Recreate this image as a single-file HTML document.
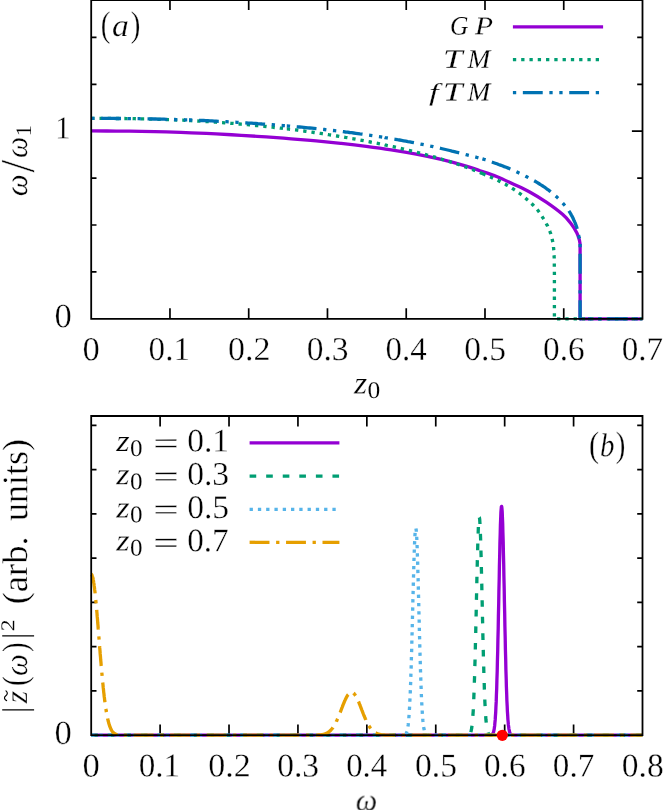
<!DOCTYPE html>
<html><head><meta charset="utf-8"><title>fig</title>
<style>html,body{margin:0;padding:0;background:#fff}svg{display:block}</style>
</head><body>
<svg width="664" height="810" viewBox="0 0 664 810">
<rect width="664" height="810" fill="#fff"/>
<path d="M169.96,318.8v-10.6M169.96,0.2v9.7M248.71,318.8v-10.6M248.71,0.2v9.7M327.47,318.8v-10.6M327.47,0.2v9.7M406.23,318.8v-10.6M406.23,0.2v9.7M484.99,318.8v-10.6M484.99,0.2v9.7M563.74,318.8v-10.6M563.74,0.2v9.7M91.2,271.90h5.3M642.5,271.90h-5.3M91.2,225.00h5.3M642.5,225.00h-5.3M91.2,178.10h5.3M642.5,178.10h-5.3M91.2,131.20h10.6M642.5,131.20h-10.6M91.2,84.30h5.3M642.5,84.30h-5.3M91.2,37.40h5.3M642.5,37.40h-5.3M160.11,735.2v-10.6M160.11,416.0v10.6M229.02,735.2v-10.6M229.02,416.0v10.6M297.94,735.2v-10.6M297.94,416.0v10.6M366.85,735.2v-10.6M366.85,416.0v10.6M435.76,735.2v-10.6M435.76,416.0v10.6M504.67,735.2v-10.6M504.67,416.0v10.6M573.59,735.2v-10.6M573.59,416.0v10.6M91.2,690.93h5.3M642.5,690.93h-5.3M91.2,646.66h5.3M642.5,646.66h-5.3M91.2,602.39h5.3M642.5,602.39h-5.3M91.2,558.12h5.3M642.5,558.12h-5.3M91.2,513.85h5.3M642.5,513.85h-5.3M91.2,469.58h5.3M642.5,469.58h-5.3M91.2,425.31h5.3M642.5,425.31h-5.3" fill="none" stroke="#000" stroke-width="1.7"/>
<g fill="none" stroke-width="3.31" stroke-linejoin="round">
<path d="M91.20,130.95 C95.37,130.97 107.87,130.98 116.20,131.05 C124.53,131.12 132.87,131.25 141.20,131.40 C149.53,131.55 157.87,131.72 166.20,131.95 C174.53,132.18 182.87,132.47 191.20,132.80 C199.53,133.13 207.87,133.50 216.20,133.92 C224.53,134.34 232.87,134.80 241.20,135.30 C249.53,135.80 257.87,136.34 266.20,136.92 C274.53,137.50 282.87,138.11 291.20,138.78 C299.53,139.45 307.87,140.15 316.20,140.92 C324.53,141.69 332.87,142.50 341.20,143.40 C349.53,144.30 357.87,145.26 366.20,146.33 C374.53,147.41 382.87,148.55 391.20,149.85 C399.53,151.15 407.87,152.55 416.20,154.15 C424.53,155.75 432.87,157.48 441.20,159.48 C449.53,161.48 459.73,164.27 466.20,166.14 C472.67,168.01 474.93,168.97 480.00,170.70 C485.07,172.43 491.08,174.28 496.60,176.50 C502.12,178.72 507.58,181.42 513.10,184.00 C518.62,186.58 524.17,188.97 529.70,192.00 C535.23,195.03 540.78,198.43 546.30,202.20 C551.82,205.97 558.67,211.02 562.80,214.60 C566.93,218.18 568.75,220.65 571.10,223.70 C573.45,226.75 575.50,230.12 576.90,232.90 C578.30,235.68 579.07,239.15 579.50,240.40 L580.1,244 L580.1,318.8 L642.5,318.8" stroke="#9400d3"/>
<path d="M91.2,118.3 L92.4,118.4 L93.9,118.4 L95.7,118.4 L97.7,118.4 L99.8,118.4 L102.1,118.4 L104.5,118.4 L106.9,118.4 L109.4,118.4 L111.7,118.4 L114.0,118.4 L116.2,118.5 L118.3,118.5 L120.4,118.5 L122.5,118.5 L124.5,118.5 L126.6,118.6 L128.7,118.6 L130.8,118.6 L132.9,118.7 L134.9,118.7 L137.0,118.8 L139.1,118.8 L141.2,118.8 L143.3,118.9 L145.4,118.9 L147.4,119.0 L149.5,119.1 L151.6,119.1 L153.7,119.2 L155.8,119.2 L157.9,119.3 L159.9,119.4 L162.0,119.4 L164.1,119.5 L166.2,119.6 L168.3,119.7 L170.4,119.7 L172.4,119.8 L174.5,119.9 L176.6,120.0 L178.7,120.1 L180.8,120.2 L182.9,120.2 L184.9,120.3 L187.0,120.4 L189.0,120.5 M189.0,120.5 L189.1,120.5 L191.2,120.7 L193.3,120.8 L195.4,120.9 L197.4,121.0 L199.5,121.1 L201.6,121.2 L203.7,121.4 L205.8,121.5 L207.9,121.6 L209.9,121.8 L212.0,121.9 L214.1,122.0 L216.2,122.2 L218.3,122.3 L220.4,122.5 L222.4,122.6 L224.5,122.8 L226.6,123.0 L228.7,123.1 L230.8,123.3 L232.9,123.4 L234.9,123.6 L237.0,123.8 L239.1,124.0 L241.2,124.2 L243.3,124.3 L245.4,124.5 L247.4,124.7 L249.5,124.9 L251.6,125.1 L253.7,125.3 L255.8,125.5 L257.9,125.7 L260.0,125.9 L262.0,126.1 L264.1,126.3 L266.2,126.5 L268.3,126.8 L270.4,127.0 L272.4,127.2 L274.5,127.5 L276.6,127.7 L278.7,127.9 L280.8,128.2 L282.9,128.4 L284.9,128.7 L286.8,128.9 M286.8,128.9 L287.0,128.9 L289.1,129.2 L291.2,129.4 L293.3,129.7 L295.4,129.9 L297.4,130.2 L299.5,130.5 L301.6,130.8 L303.7,131.0 L305.8,131.3 L307.9,131.6 L309.9,131.9 L312.0,132.2 L314.1,132.5 L316.2,132.8 L318.3,133.1 L320.4,133.4 L322.4,133.7 L324.5,134.0 L326.6,134.3 L328.7,134.7 L330.8,135.0 L332.9,135.3 L334.9,135.7 L337.0,136.0 L339.1,136.3 L341.2,136.7 L343.3,137.0 L345.4,137.4 L347.4,137.7 L349.5,138.1 L351.6,138.5 L353.7,138.8 L355.8,139.2 L357.9,139.6 L359.9,140.0 L362.0,140.4 L364.1,140.8 L366.2,141.2 L368.3,141.6 L370.4,142.0 L372.4,142.4 L374.5,142.8 L376.6,143.2 L378.7,143.6 L380.8,144.0 L382.9,144.5 L384.6,144.8 M384.6,144.8 L384.9,144.9 L387.0,145.4 L389.1,145.8 L391.2,146.3 L393.3,146.7 L395.4,147.2 L397.4,147.7 L399.5,148.1 L401.6,148.6 L403.7,149.1 L405.8,149.6 L407.9,150.1 L409.9,150.6 L412.0,151.1 L414.1,151.6 L416.2,152.1 L418.3,152.7 L420.4,153.2 L422.4,153.8 L424.5,154.3 L426.6,154.9 L428.7,155.4 L430.8,156.0 L432.9,156.6 L434.9,157.2 L437.0,157.8 L439.1,158.4 L441.2,159.0 L443.3,159.7 L445.5,160.3 L447.6,161.0 L449.8,161.7 L452.0,162.4 L454.2,163.1 L456.3,163.8 L458.5,164.5 L460.5,165.2 L462.5,165.9 L464.4,166.6 L466.2,167.2 L467.9,167.8 L469.5,168.4 L471.1,169.0 L472.6,169.6 L474.0,170.2 L475.4,170.7 L476.7,171.3 L478.1,171.8 L479.4,172.4 L480.7,172.9 L482.0,173.4 L482.4,173.6 M482.4,173.6 L483.3,174.0 L484.6,174.6 L485.9,175.1 L487.2,175.6 L488.4,176.1 L489.7,176.7 L490.9,177.2 L492.1,177.7 L493.3,178.3 L494.5,178.8 L495.7,179.4 L497.0,180.0 L498.2,180.6 L499.4,181.2 L500.7,181.9 L502.0,182.5 L503.2,183.2 L504.5,183.9 L505.8,184.5 L507.0,185.2 L508.3,185.9 L509.5,186.7 L510.7,187.4 L511.9,188.1 L513.1,188.9 L514.3,189.7 L515.4,190.4 L516.6,191.2 L517.7,192.0 L518.8,192.9 L520.0,193.7 L521.1,194.5 L522.2,195.4 L523.2,196.2 L524.3,197.1 L525.4,198.0 L526.4,198.9 L527.4,199.8 L528.5,200.7 L529.5,201.6 L530.5,202.6 L531.5,203.5 L532.5,204.5 L533.5,205.5 L534.4,206.5 L535.4,207.5 L536.3,208.5 L537.2,209.5 L538.0,210.5 L538.8,211.6 L539.6,212.7 L540.4,213.8 L541.2,214.9 L541.9,216.1 L542.6,217.3 L543.3,218.4 L544.0,219.5 L544.6,220.7 L545.2,221.7 L545.8,222.7 L546.3,223.7 L546.8,224.6 L547.2,225.4 L547.7,226.2 L548.0,227.0 L548.4,227.7 L548.7,228.5 L549.0,229.2 L549.3,229.9 L549.6,230.6 L549.9,231.3 L550.1,232.0 L550.4,232.8 L550.7,233.6 L550.9,234.4 L551.2,235.3 L551.4,236.1 L551.6,236.9 L551.8,237.8 L552.0,238.6 L552.2,239.5 L552.4,240.3 L552.6,241.2 L552.7,242.0 L552.9,242.8 L553.0,243.6 L553.2,244.3 L553.3,245.1 L553.4,245.8 L553.5,246.5 L553.5,247.2 L553.6,247.9 L553.7,248.7 L553.7,249.5 L553.8,250.3 L553.8,251.1 L553.9,252.0 L554.0,252.9 L554.0,253.8 L554.0,254.7 L554.1,255.6 L554.1,256.5 L554.2,257.5 L554.2,258.5 L554.2,259.6 L554.2,260.8 L554.3,262.1 L554.3,263.5 L554.3,265.0 L554.3,266.7 L554.3,268.4 L554.3,270.3 L554.4,272.3 L554.4,274.4 L554.4,276.5 L554.4,278.7 L554.4,280.9 L554.4,283.2 L554.4,285.5 L554.4,287.7 L554.4,290.0 L554.4,292.4 L554.4,294.9 L554.4,297.6 L554.4,300.4 L554.4,303.2 L554.4,306.0 L554.4,308.6 L554.4,311.2 L554.4,313.5 L554.4,315.6 L554.4,317.4 L554.4,318.8 L580.1,318.8 L642.5,318.8" stroke="#009e73" stroke-dasharray="3.31,4.97"/>
<path d="M91.2,118.3 L92.4,118.4 L93.9,118.4 L95.7,118.4 L97.7,118.4 L99.8,118.4 L102.1,118.4 L104.5,118.4 L106.9,118.4 L109.4,118.4 L111.7,118.4 L114.0,118.4 L116.2,118.5 L118.3,118.5 L120.4,118.5 L122.5,118.5 L124.5,118.5 L126.6,118.5 L128.7,118.6 L130.8,118.6 L132.9,118.6 L134.9,118.7 L137.0,118.7 L139.1,118.7 L141.2,118.8 L143.3,118.8 L145.4,118.8 L147.4,118.9 L149.5,118.9 L151.6,118.9 L153.7,119.0 L155.8,119.0 L157.9,119.1 L159.9,119.1 L162.0,119.2 L164.1,119.2 L166.2,119.3 L168.3,119.3 L170.4,119.4 L172.4,119.4 L174.5,119.5 L176.6,119.6 L178.7,119.6 L180.8,119.7 L182.9,119.7 L184.9,119.8 L187.0,119.9 L189.0,119.9 M189.0,119.9 L189.1,119.9 L191.2,120.0 L193.3,120.1 L195.4,120.2 L197.4,120.3 L199.5,120.4 L201.6,120.5 L203.7,120.5 L205.8,120.6 L207.9,120.7 L209.9,120.8 L212.0,120.9 L214.1,121.1 L216.2,121.2 L218.3,121.3 L220.4,121.4 L222.4,121.5 L224.5,121.6 L226.6,121.7 L228.7,121.8 L230.8,121.9 L232.9,122.1 L234.9,122.2 L237.0,122.3 L239.1,122.4 L241.2,122.6 L243.3,122.7 L245.4,122.8 L247.4,123.0 L249.5,123.1 L251.6,123.2 L253.7,123.4 L255.8,123.5 L257.9,123.7 L260.0,123.8 L262.0,124.0 L264.1,124.1 L266.2,124.3 L268.3,124.4 L270.4,124.6 L272.4,124.7 L274.5,124.9 L276.6,125.1 L278.7,125.2 L280.8,125.4 L282.9,125.6 L284.9,125.7 L286.8,125.9 M286.8,125.9 L287.0,125.9 L289.1,126.1 L291.2,126.3 L293.3,126.5 L295.4,126.6 L297.4,126.8 L299.5,127.0 L301.6,127.2 L303.7,127.4 L305.8,127.6 L307.9,127.8 L309.9,128.0 L312.0,128.2 L314.1,128.4 L316.2,128.7 L318.3,128.9 L320.4,129.1 L322.4,129.3 L324.5,129.5 L326.6,129.8 L328.7,130.0 L330.8,130.2 L332.9,130.5 L334.9,130.7 L337.0,130.9 L339.1,131.2 L341.2,131.4 L343.3,131.7 L345.4,132.0 L347.4,132.2 L349.5,132.5 L351.6,132.7 L353.7,133.0 L355.8,133.3 L357.9,133.6 L359.9,133.9 L362.0,134.1 L364.1,134.4 L366.2,134.7 L368.3,135.0 L370.4,135.3 L372.4,135.6 L374.5,136.0 L376.6,136.3 L378.7,136.6 L380.8,136.9 L382.9,137.2 L384.6,137.5 M384.6,137.5 L384.9,137.6 L387.0,137.9 L389.1,138.3 L391.2,138.6 L393.3,139.0 L395.4,139.3 L397.4,139.7 L399.5,140.0 L401.6,140.4 L403.7,140.8 L405.8,141.2 L407.9,141.6 L409.9,141.9 L412.0,142.3 L414.1,142.7 L416.2,143.2 L418.3,143.6 L420.4,144.0 L422.4,144.4 L424.5,144.8 L426.6,145.3 L428.7,145.7 L430.8,146.2 L432.9,146.6 L434.9,147.1 L437.0,147.5 L439.1,148.0 L441.2,148.5 L443.3,149.0 L445.5,149.5 L447.6,150.0 L449.8,150.5 L452.0,151.1 L454.2,151.6 L456.3,152.2 L458.4,152.7 L460.5,153.2 L462.5,153.7 L464.4,154.2 L466.2,154.7 L467.9,155.1 L469.6,155.5 L471.2,155.9 L472.8,156.3 L474.3,156.7 L475.8,157.1 L477.2,157.5 L478.6,157.9 L479.9,158.2 L481.1,158.6 L482.3,158.9 L482.4,158.9 M482.4,158.9 L483.4,159.2 L484.4,159.5 L485.2,159.7 L485.9,159.9 L486.5,160.1 L487.1,160.3 L487.6,160.5 L488.2,160.6 L488.8,160.8 L489.4,161.1 L490.3,161.4 L491.2,161.8 L492.4,162.2 L493.8,162.7 L495.2,163.2 L496.9,163.8 L498.6,164.5 L500.4,165.1 L502.3,165.8 L504.2,166.6 L506.2,167.3 L508.2,168.1 L510.2,169.0 L512.1,169.8 L514.1,170.7 L516.1,171.6 L518.1,172.6 L520.2,173.6 L522.4,174.6 L524.6,175.7 L526.7,176.8 L528.9,177.9 L531.0,179.1 L533.1,180.2 L535.1,181.3 L537.0,182.4 L538.8,183.5 L540.5,184.6 L542.2,185.6 L543.7,186.7 L545.3,187.7 L546.7,188.8 L548.2,189.8 L549.6,190.9 L550.9,192.0 L552.2,193.0 L553.5,194.1 L554.8,195.2 L556.0,196.3 L557.2,197.4 L558.4,198.5 L559.6,199.7 L560.7,200.8 L561.8,202.0 L562.8,203.2 L563.8,204.3 L564.8,205.5 L565.8,206.7 L566.7,207.8 L567.6,209.0 L568.4,210.2 L569.2,211.4 L570.0,212.6 L570.7,213.8 L571.4,215.1 L572.1,216.3 L572.7,217.5 L573.3,218.8 L573.8,220.0 L574.4,221.2 L574.9,222.4 L575.4,223.5 L575.8,224.6 L576.2,225.7 L576.6,226.8 L576.9,228.0 L577.2,229.1 L577.5,230.2 L577.8,231.3 L578.0,232.3 L578.2,233.3 L578.4,234.2 L578.5,235.0 L578.7,235.6 L578.8,236.2 L580.1,240.0 L580.1,243.9 M580.1,243.9 L580.1,318.8 L642.5,318.8" stroke="#0072b2" stroke-dasharray="3.31,6.63,19.88,6.63,3.31,6.63"/>
<path d="M512.9,26.8H603.1" stroke="#9400d3"/>
<path d="M512.9,59.7H603.1" stroke="#009e73" stroke-dasharray="3.31,4.97"/>
<path d="M512.9,92.7H603.1" stroke="#0072b2" stroke-dasharray="3.31,6.63,19.88,6.63,3.31,6.63"/>
</g>
<g fill="none" stroke-width="3.31" stroke-linejoin="round">
<path d="M91.2,735.2 L489.7,735.2 L489.9,735.2 L490.2,735.2 L490.4,735.1 L490.7,735.1 L490.9,735.1 L491.2,735.0 L491.4,734.9 L491.7,734.8 L491.9,734.7 L492.2,734.5 L492.4,734.3 L492.7,734.0 L492.9,733.6 L493.2,733.0 L493.4,732.4 L493.7,731.5 L493.9,730.4 L494.2,729.1 L494.4,727.4 L494.7,725.4 L494.9,722.9 L495.2,719.9 L495.4,716.4 L495.7,712.3 L495.9,707.5 L496.2,701.9 L496.4,695.5 L496.7,688.4 L496.9,680.4 L497.2,671.5 L497.4,661.9 L497.7,651.4 L497.9,640.3 L498.2,628.6 L498.4,616.4 L498.7,603.9 L498.9,591.3 L499.2,578.7 L499.4,566.5 L499.7,554.8 L499.9,543.9 L500.2,534.0 L500.4,525.4 L500.7,518.1 L500.9,512.5 L501.2,508.6 L501.4,506.5 L501.7,506.4 L501.9,508.0 L502.2,511.6 L502.4,516.9 L502.7,523.8 L502.9,532.2 L503.2,541.9 L503.4,552.6 L503.7,564.1 L503.9,576.2 L504.2,588.7 L504.4,601.4 L504.7,613.9 L504.9,626.2 L505.2,638.0 L505.4,649.3 L505.7,659.8 L505.9,669.7 L506.2,678.7 L506.4,686.8 L506.7,694.2 L506.9,700.7 L507.2,706.4 L507.4,711.4 L507.7,715.6 L507.9,719.3 L508.2,722.3 L508.4,724.9 L508.7,727.0 L508.9,728.8 L509.2,730.2 L509.4,731.3 L509.7,732.2 L509.9,732.9 L510.2,733.5 L510.4,733.9 L510.7,734.2 L510.9,734.5 L511.2,734.7 L511.4,734.8 L511.7,734.9 L511.9,735.0 L512.2,735.1 L512.5,735.1 L512.7,735.1 L513.0,735.2 L513.2,735.2 L513.5,735.2 L642.0,735.2 L642.2,735.2 L642.5,735.2" stroke="#9400d3"/>
<path d="M91.2,735.2 L466.7,735.2 L466.9,735.2 L467.2,735.2 L467.4,735.1 L467.7,735.1 L467.9,735.1 L468.2,735.1 L468.4,735.0 L468.7,734.9 L468.9,734.8 L469.2,734.7 L469.4,734.5 L469.7,734.3 L469.9,734.0 L470.2,733.6 L470.4,733.1 L470.7,732.5 L470.9,731.7 L471.2,730.8 L471.4,729.6 L471.7,728.2 L471.9,726.4 L472.2,724.3 L472.4,721.8 L472.7,718.8 L472.9,715.4 L473.2,711.3 L473.4,706.7 L473.7,701.4 L473.9,695.4 L474.2,688.8 L474.4,681.4 L474.7,673.2 L474.9,664.4 L475.2,655.0 L475.4,644.9 L475.7,634.3 L475.9,623.3 L476.2,612.1 L476.4,600.7 L476.7,589.3 L476.9,578.2 L477.2,567.5 L477.4,557.3 L477.7,548.0 L477.9,539.6 L478.2,532.3 L478.4,526.4 L478.7,521.8 L478.9,518.8 L479.2,517.3 L479.4,517.5 L479.7,519.3 L479.9,522.6 L480.2,527.4 L480.4,533.7 L480.7,541.2 L480.9,549.8 L481.2,559.3 L481.4,569.6 L481.7,580.4 L481.9,591.6 L482.2,603.0 L482.4,614.3 L482.7,625.6 L482.9,636.5 L483.2,646.9 L483.4,656.9 L483.7,666.2 L483.9,674.9 L484.2,682.9 L484.4,690.2 L484.7,696.7 L484.9,702.5 L485.2,707.7 L485.4,712.2 L485.7,716.1 L485.9,719.5 L486.2,722.3 L486.4,724.8 L486.7,726.8 L486.9,728.5 L487.2,729.9 L487.4,731.0 L487.7,731.9 L487.9,732.7 L488.2,733.2 L488.4,733.7 L488.7,734.1 L488.9,734.3 L489.2,734.6 L489.4,734.7 L489.7,734.8 L489.9,734.9 L490.2,735.0 L490.4,735.1 L490.7,735.1 L490.9,735.1 L491.2,735.2 L491.4,735.2 L491.7,735.2 L642.0,735.2 L642.2,735.2 L642.5,735.2" stroke="#009e73" stroke-dasharray="6.63,9.94"/>
<path d="M91.2,735.2 L402.4,735.2 L402.7,735.2 L402.9,735.2 L403.2,735.1 L403.4,735.1 L403.7,735.1 L403.9,735.1 L404.2,735.0 L404.4,734.9 L404.7,734.9 L404.9,734.7 L405.2,734.6 L405.4,734.4 L405.7,734.2 L405.9,733.9 L406.2,733.5 L406.4,733.0 L406.7,732.4 L406.9,731.7 L407.2,730.8 L407.4,729.7 L407.7,728.4 L407.9,726.8 L408.2,724.9 L408.4,722.7 L408.7,720.2 L408.9,717.2 L409.2,713.7 L409.4,709.8 L409.7,705.3 L409.9,700.3 L410.2,694.7 L410.4,688.5 L410.7,681.7 L410.9,674.3 L411.2,666.4 L411.4,657.9 L411.7,648.9 L411.9,639.5 L412.2,629.7 L412.4,619.8 L412.7,609.6 L412.9,599.5 L413.2,589.6 L413.4,579.9 L413.7,570.6 L413.9,562.0 L414.2,554.0 L414.4,546.9 L414.7,540.8 L414.9,535.8 L415.2,532.0 L415.4,529.5 L415.7,528.3 L415.9,528.4 L416.2,529.9 L416.4,532.7 L416.7,536.7 L416.9,542.0 L417.2,548.3 L417.4,555.5 L417.7,563.6 L417.9,572.5 L418.2,581.8 L418.4,591.6 L418.7,601.6 L418.9,611.7 L419.2,621.8 L419.4,631.7 L419.7,641.4 L419.9,650.7 L420.2,659.6 L420.4,668.0 L420.7,675.8 L420.9,683.1 L421.2,689.8 L421.4,695.9 L421.7,701.4 L421.9,706.3 L422.2,710.6 L422.4,714.5 L422.7,717.8 L422.9,720.7 L423.2,723.2 L423.4,725.3 L423.7,727.2 L423.9,728.7 L424.2,729.9 L424.4,731.0 L424.7,731.8 L424.9,732.5 L425.2,733.1 L425.4,733.6 L425.7,733.9 L425.9,734.2 L426.2,734.5 L426.4,734.6 L426.7,734.8 L426.9,734.9 L427.2,735.0 L427.4,735.0 L427.7,735.1 L427.9,735.1 L428.2,735.1 L428.4,735.1 L428.7,735.2 L428.9,735.2 L642.0,735.2 L642.2,735.2 L642.5,735.2" stroke="#56b4e9" stroke-dasharray="3.31,4.97"/>
<path d="M91.2,574.2 L91.5,574.3 L91.7,574.5 L92.0,575.0 L92.2,575.6 L92.5,576.3 L92.7,577.2 L93.0,578.3 L93.2,579.5 L93.5,580.9 L93.7,582.5 L94.0,584.1 L94.2,586.0 L94.5,587.9 L94.7,590.0 L95.0,592.2 L95.2,594.5 L95.5,596.9 L95.7,599.5 L96.0,602.1 L96.2,604.8 L96.5,607.6 L96.7,610.5 L97.0,613.4 L97.2,616.4 L97.5,619.4 L97.7,622.5 L98.0,625.6 L98.2,628.7 L98.5,631.8 L98.7,635.0 L99.0,638.2 L99.2,641.4 L99.5,644.5 L99.7,647.7 L100.0,650.8 L100.2,653.9 L100.5,657.0 L100.7,660.0 L101.0,663.0 L101.2,665.9 L101.5,668.8 L101.7,671.7 L102.0,674.4 L102.2,677.2 L102.5,679.8 L102.7,682.4 L103.0,684.9 L103.2,687.4 L103.5,689.8 L103.7,692.1 L104.0,694.3 L104.2,696.5 L104.5,698.6 L104.7,700.6 L105.0,702.5 L105.2,704.4 L105.5,706.2 L105.7,707.9 L106.0,709.5 L106.2,711.1 L106.5,712.5 L106.7,714.0 L107.0,715.3 L107.2,716.6 L107.5,717.8 L107.7,719.0 L108.0,720.1 L108.2,721.1 L108.5,722.1 L108.7,723.0 L109.0,723.9 L109.2,724.7 L109.5,725.5 L109.7,726.2 L110.0,726.9 L110.2,727.5 L110.5,728.1 L110.7,728.7 L111.0,729.2 L111.2,729.7 L111.5,730.1 L111.7,730.5 L112.0,730.9 L112.2,731.3 L112.5,731.6 L112.7,731.9 L113.0,732.2 L113.2,732.5 L113.5,732.7 L113.7,732.9 L114.0,733.2 L114.2,733.3 L114.5,733.5 L114.7,733.7 L115.0,733.8 L115.2,733.9 L115.5,734.1 L115.7,734.2 L116.0,734.3 L116.2,734.4 L116.5,734.5 L116.7,734.5 L117.0,734.6 L117.2,734.7 L117.5,734.7 L117.7,734.8 L118.0,734.8 L118.2,734.9 L118.5,734.9 L118.7,734.9 L119.0,735.0 L119.2,735.0 L119.5,735.0 L119.7,735.0 L120.0,735.0 L120.2,735.1 L120.5,735.1 L120.7,735.1 L121.0,735.1 L121.2,735.1 L121.5,735.1 L121.7,735.1 L122.0,735.1 L122.2,735.2 L122.5,735.2 L122.7,735.2 L123.0,735.2 L123.2,735.2 L123.5,735.2 L123.7,735.2 L312.2,735.2 L312.4,735.2 L312.7,735.2 L312.9,735.2 L313.2,735.2 L313.4,735.2 L313.7,735.2 L313.9,735.2 L314.2,735.2 L314.4,735.2 L314.7,735.2 L314.9,735.1 L315.2,735.1 L315.4,735.1 L315.7,735.1 L315.9,735.1 L316.2,735.1 L316.4,735.1 L316.7,735.1 L316.9,735.1 L317.2,735.1 L317.4,735.1 L317.7,735.1 L317.9,735.0 L318.2,735.0 L318.4,735.0 L318.7,735.0 L318.9,735.0 L319.2,735.0 L319.4,734.9 L319.7,734.9 L319.9,734.9 L320.2,734.9 L320.4,734.9 L320.7,734.8 L320.9,734.8 L321.2,734.8 L321.4,734.7 L321.7,734.7 L321.9,734.7 L322.2,734.6 L322.4,734.6 L322.7,734.5 L322.9,734.5 L323.2,734.4 L323.4,734.4 L323.7,734.3 L323.9,734.2 L324.2,734.2 L324.4,734.1 L324.7,734.0 L324.9,733.9 L325.2,733.8 L325.4,733.8 L325.7,733.7 L325.9,733.6 L326.2,733.4 L326.4,733.3 L326.7,733.2 L326.9,733.1 L327.2,733.0 L327.4,732.8 L327.7,732.7 L327.9,732.5 L328.2,732.4 L328.4,732.2 L328.7,732.0 L328.9,731.8 L329.2,731.6 L329.4,731.4 L329.7,731.2 L329.9,731.0 L330.2,730.8 L330.4,730.5 L330.7,730.3 L330.9,730.0 L331.2,729.7 L331.4,729.4 L331.7,729.1 L331.9,728.8 L332.2,728.5 L332.4,728.2 L332.7,727.9 L332.9,727.5 L333.2,727.1 L333.4,726.8 L333.7,726.4 L333.9,726.0 L334.2,725.6 L334.4,725.1 L334.7,724.7 L334.9,724.3 L335.2,723.8 L335.4,723.3 L335.7,722.9 L335.9,722.4 L336.2,721.9 L336.4,721.3 L336.7,720.8 L336.9,720.3 L337.2,719.7 L337.4,719.2 L337.7,718.6 L337.9,718.0 L338.2,717.4 L338.4,716.8 L338.7,716.2 L338.9,715.6 L339.2,715.0 L339.4,714.4 L339.7,713.8 L339.9,713.1 L340.2,712.5 L340.4,711.8 L340.7,711.2 L340.9,710.6 L341.2,709.9 L341.4,709.2 L341.7,708.6 L341.9,707.9 L342.2,707.3 L342.4,706.6 L342.7,706.0 L342.9,705.4 L343.2,704.7 L343.4,704.1 L343.7,703.5 L343.9,702.9 L344.2,702.3 L344.4,701.7 L344.7,701.1 L344.9,700.5 L345.2,699.9 L345.4,699.4 L345.7,698.9 L345.9,698.3 L346.2,697.8 L346.4,697.3 L346.7,696.9 L346.9,696.4 L347.2,696.0 L347.4,695.6 L347.7,695.2 L347.9,694.8 L348.2,694.5 L348.4,694.2 L348.7,693.9 L348.9,693.6 L349.2,693.3 L349.4,693.1 L349.7,692.9 L349.9,692.7 L350.2,692.6 L350.4,692.4 L350.7,692.3 L350.9,692.3 L351.2,692.2 L351.4,692.2 L351.7,692.2 L351.9,692.2 L352.2,692.3 L352.4,692.4 L352.7,692.5 L352.9,692.6 L353.2,692.8 L353.4,693.0 L353.7,693.2 L353.9,693.5 L354.2,693.7 L354.4,694.0 L354.7,694.3 L354.9,694.7 L355.2,695.0 L355.4,695.4 L355.7,695.8 L355.9,696.3 L356.2,696.7 L356.4,697.2 L356.7,697.6 L356.9,698.1 L357.2,698.6 L357.4,699.2 L357.7,699.7 L357.9,700.3 L358.2,700.8 L358.4,701.4 L358.7,702.0 L358.9,702.6 L359.2,703.2 L359.4,703.9 L359.7,704.5 L359.9,705.1 L360.2,705.7 L360.4,706.4 L360.7,707.0 L360.9,707.7 L361.2,708.3 L361.4,709.0 L361.7,709.6 L361.9,710.3 L362.2,710.9 L362.4,711.6 L362.7,712.2 L362.9,712.9 L363.2,713.5 L363.4,714.1 L363.7,714.8 L363.9,715.4 L364.2,716.0 L364.4,716.6 L364.7,717.2 L364.9,717.8 L365.2,718.4 L365.4,718.9 L365.7,719.5 L365.9,720.1 L366.2,720.6 L366.4,721.1 L366.7,721.7 L366.9,722.2 L367.2,722.7 L367.4,723.1 L367.7,723.6 L367.9,724.1 L368.2,724.5 L368.4,725.0 L368.7,725.4 L368.9,725.8 L369.2,726.2 L369.4,726.6 L369.7,727.0 L369.9,727.4 L370.2,727.7 L370.4,728.1 L370.7,728.4 L370.9,728.7 L371.2,729.0 L371.4,729.3 L371.7,729.6 L371.9,729.9 L372.2,730.2 L372.4,730.4 L372.7,730.7 L372.9,730.9 L373.2,731.1 L373.4,731.3 L373.7,731.5 L373.9,731.7 L374.2,731.9 L374.4,732.1 L374.7,732.3 L374.9,732.4 L375.2,732.6 L375.4,732.8 L375.7,732.9 L375.9,733.0 L376.2,733.2 L376.4,733.3 L376.7,733.4 L376.9,733.5 L377.2,733.6 L377.4,733.7 L377.7,733.8 L377.9,733.9 L378.2,734.0 L378.4,734.1 L378.7,734.1 L378.9,734.2 L379.2,734.3 L379.4,734.3 L379.7,734.4 L379.9,734.4 L380.2,734.5 L380.4,734.5 L380.7,734.6 L380.9,734.6 L381.2,734.7 L381.4,734.7 L381.7,734.8 L381.9,734.8 L382.2,734.8 L382.4,734.8 L382.7,734.9 L382.9,734.9 L383.2,734.9 L383.4,734.9 L383.7,735.0 L383.9,735.0 L384.2,735.0 L384.4,735.0 L384.7,735.0 L384.9,735.0 L385.2,735.1 L385.4,735.1 L385.7,735.1 L385.9,735.1 L386.2,735.1 L386.4,735.1 L386.7,735.1 L386.9,735.1 L387.2,735.1 L387.4,735.1 L387.7,735.1 L387.9,735.1 L388.2,735.1 L388.4,735.2 L388.7,735.2 L388.9,735.2 L389.2,735.2 L389.4,735.2 L389.7,735.2 L389.9,735.2 L390.2,735.2 L390.4,735.2 L642.0,735.2 L642.2,735.2 L642.5,735.2" stroke="#e69f00" stroke-dasharray="19.88,6.63,3.31,6.63"/>
<path d="M249.6,442.9H339.4" stroke="#9400d3"/>
<path d="M249.6,476.1H339.4" stroke="#009e73" stroke-dasharray="6.63,9.94"/>
<path d="M249.6,509.4H339.4" stroke="#56b4e9" stroke-dasharray="3.31,4.97"/>
<path d="M249.6,542.3H339.4" stroke="#e69f00" stroke-dasharray="19.88,6.63,3.31,6.63"/>
</g>
<g fill="none" stroke="#000" stroke-width="1.8"><path d="M91.2,0.2H642.5V318.8H91.2Z"/><path d="M91.2,416.0H642.5V735.2H91.2Z"/></g>
<circle cx="502.3" cy="735.3" r="5.6" fill="#ff0000"/>
<g font-family="'Liberation Serif', serif" fill="#000" stroke="#fff" stroke-width="0.45" opacity="0.999" text-rendering="geometricPrecision">
<text transform="matrix(0.8500 0.002 -0.002 1.0602 100.86 36.21)" font-size="34" stroke-width="0.30">(</text>
<text transform="matrix(0.9898 0.002 -0.002 0.9273 112.01 36.04)" font-size="34" font-style="italic" stroke-width="0.30">a</text>
<text transform="matrix(0.8500 0.002 -0.002 1.0602 130.63 36.21)" font-size="34" stroke-width="0.30">)</text>
<text transform="matrix(0.8914 0.002 -0.002 1.0602 588.96 456.61)" font-size="34" stroke-width="0.30">(</text>
<text transform="matrix(0.8500 0.002 -0.002 0.9726 600.12 456.26)" font-size="34" font-style="italic" stroke-width="0.30">b</text>
<text transform="matrix(0.8500 0.002 -0.002 1.0602 615.63 456.61)" font-size="34" stroke-width="0.30">)</text>
<text transform="matrix(0.9429 0.002 -0.002 0.9808 449.89 34.55)" font-size="27" font-style="italic" stroke-width="0.20">G</text>
<text transform="matrix(1.0938 0.002 -0.002 0.9465 474.97 34.30)" font-size="27" font-style="italic" stroke-width="0.20">P</text>
<text transform="matrix(1.3000 0.002 -0.002 0.9859 443.09 67.70)" font-size="27" font-style="italic" stroke-width="0.20">T</text>
<text transform="matrix(1.0125 0.002 -0.002 0.9859 467.45 67.70)" font-size="27" font-style="italic" stroke-width="0.20">M</text>
<text transform="matrix(1.3000 0.002 -0.002 0.9253 428.96 100.38)" font-size="27" font-style="italic" stroke-width="0.20">f</text>
<text transform="matrix(1.3000 0.002 -0.002 0.9634 443.09 100.40)" font-size="27" font-style="italic" stroke-width="0.20">T</text>
<text transform="matrix(1.0125 0.002 -0.002 0.9634 467.45 100.40)" font-size="27" font-style="italic" stroke-width="0.20">M</text>
<text transform="matrix(0.9727 0.002 -0.002 1.0390 55.33 138.60)" font-size="31" stroke-width="0.30">1</text>
<text transform="matrix(1.1154 0.002 -0.002 1.1048 54.51 327.32)" font-size="31" stroke-width="0.30">0</text>
<text transform="matrix(1.1154 0.002 -0.002 1.0905 54.51 743.93)" font-size="31" stroke-width="0.30">0</text>
<text transform="matrix(1.1154 0.002 -0.002 1.0857 82.56 360.33)" font-size="31" stroke-width="0.30">0</text>
<text transform="matrix(1.0685 0.002 -0.002 1.0729 148.62 360.06)" font-size="31" stroke-width="0.30">0.1</text>
<text transform="matrix(1.0965 0.002 -0.002 1.0729 227.94 360.06)" font-size="31" stroke-width="0.30">0.2</text>
<text transform="matrix(1.0814 0.002 -0.002 1.0729 306.72 360.06)" font-size="31" stroke-width="0.30">0.3</text>
<text transform="matrix(1.0595 0.002 -0.002 1.0729 385.50 360.06)" font-size="31" stroke-width="0.30">0.4</text>
<text transform="matrix(1.0814 0.002 -0.002 1.0729 464.23 360.06)" font-size="31" stroke-width="0.30">0.5</text>
<text transform="matrix(1.0740 0.002 -0.002 1.0729 543.00 360.06)" font-size="31" stroke-width="0.30">0.6</text>
<text transform="matrix(1.0667 0.002 -0.002 1.0729 621.77 360.06)" font-size="31" stroke-width="0.30">0.7</text>
<text transform="matrix(1.1154 0.002 -0.002 1.0857 82.56 776.73)" font-size="31" stroke-width="0.30">0</text>
<text transform="matrix(1.0685 0.002 -0.002 1.0729 138.78 776.46)" font-size="31" stroke-width="0.30">0.1</text>
<text transform="matrix(1.0965 0.002 -0.002 1.0729 208.25 776.46)" font-size="31" stroke-width="0.30">0.2</text>
<text transform="matrix(1.0814 0.002 -0.002 1.0729 277.19 776.46)" font-size="31" stroke-width="0.30">0.3</text>
<text transform="matrix(1.0595 0.002 -0.002 1.0729 346.13 776.46)" font-size="31" stroke-width="0.30">0.4</text>
<text transform="matrix(1.0814 0.002 -0.002 1.0729 415.01 776.46)" font-size="31" stroke-width="0.30">0.5</text>
<text transform="matrix(1.0740 0.002 -0.002 1.0729 483.93 776.46)" font-size="31" stroke-width="0.30">0.6</text>
<text transform="matrix(1.0667 0.002 -0.002 1.0729 552.85 776.46)" font-size="31" stroke-width="0.30">0.7</text>
<text transform="matrix(1.0814 0.002 -0.002 1.0729 621.75 776.46)" font-size="31" stroke-width="0.30">0.8</text>
<text transform="matrix(0.9962 0.002 -0.002 0.9333 354.00 393.50)" font-size="34" font-style="italic" stroke-width="0.30">z</text>
<text transform="matrix(1.1100 0.002 -0.002 1.0387 367.57 397.94)" font-size="23" stroke-width="0.12">0</text>
<text transform="matrix(0.8930 0.002 -0.002 0.9231 355.61 810.17)" font-size="34" font-style="italic" stroke-width="0.30">ω</text>
<text transform="translate(0 810) rotate(-90) matrix(0.9116 0.002 -0.002 0.9292 613.69 26.97)" font-size="34" font-style="italic" stroke-width="0.30">ω</text>
<text transform="translate(0 810) rotate(-90) matrix(1.3474 0.002 -0.002 1.4198 637.40 33.85)" font-size="34" stroke-width="0.30">/</text>
<text transform="translate(0 810) rotate(-90) matrix(0.8791 0.002 -0.002 0.9292 652.02 26.97)" font-size="34" font-style="italic" stroke-width="0.30">ω</text>
<text transform="translate(0 810) rotate(-90) matrix(0.9576 0.002 -0.002 0.9639 673.78 31.10)" font-size="23" stroke-width="0.12">1</text>
<text transform="translate(0 810) rotate(-90) matrix(0.9283 0.002 -0.002 0.9397 106.66 27.00)" font-size="34" font-style="italic" stroke-width="0.30">z</text>
<text transform="translate(0 810) rotate(-90) matrix(0.8500 0.002 -0.002 1.0341 124.11 26.50)" font-size="34" stroke-width="0.30">(</text>
<text transform="translate(0 810) rotate(-90) matrix(0.9070 0.002 -0.002 0.9538 134.09 26.96)" font-size="34" font-style="italic" stroke-width="0.30">ω</text>
<text transform="translate(0 810) rotate(-90) matrix(0.8500 0.002 -0.002 1.0341 158.03 26.50)" font-size="34" stroke-width="0.30">)</text>
<text transform="translate(0 810) rotate(-90) matrix(1.0378 0.002 -0.002 0.8500 178.86 14.18)" font-size="23" stroke-width="0.12">2</text>
<text transform="translate(0 810) rotate(-90) matrix(1.1779 0.002 -0.002 1.1500 205.63 26.93)" font-size="31" stroke-width="0.30">(arb.</text>
<text transform="translate(0 810) rotate(-90) matrix(1.1622 0.002 -0.002 1.1607 289.02 27.16)" font-size="31" stroke-width="0.30">units)</text>
<path d="M2.2,709.9H34.1M2.2,635.8H34.1" stroke="#000" stroke-width="1.3" fill="none"/>
<path d="M6.6,700.6C4.2,699.6 3.8,697.2 5.6,695.9C7.6,694.5 8.0,692.6 6.0,690.9" stroke="#000" stroke-width="1.2" fill="none" stroke-linecap="round"/>
<text transform="matrix(1.0113 0.002 -0.002 0.9016 116.21 451.00)" font-size="34" font-style="italic" stroke-width="0.30">z</text>
<text transform="matrix(1.0900 0.002 -0.002 1.0387 130.08 455.94)" font-size="23" stroke-width="0.12">0</text>
<text transform="matrix(1.4828 0.002 -0.002 1.0581 152.88 454.18)" font-size="31" stroke-width="0.30">=</text>
<text transform="matrix(1.0797 0.002 -0.002 1.0635 187.15 451.57)" font-size="31" stroke-width="0.30">0.1</text>
<text transform="matrix(1.0113 0.002 -0.002 0.9016 116.21 484.20)" font-size="34" font-style="italic" stroke-width="0.30">z</text>
<text transform="matrix(1.0900 0.002 -0.002 1.0387 130.08 489.14)" font-size="23" stroke-width="0.12">0</text>
<text transform="matrix(1.4828 0.002 -0.002 1.0581 152.88 487.38)" font-size="31" stroke-width="0.30">=</text>
<text transform="matrix(1.0841 0.002 -0.002 1.0635 187.14 484.77)" font-size="31" stroke-width="0.30">0.3</text>
<text transform="matrix(1.0113 0.002 -0.002 0.9016 116.21 517.40)" font-size="34" font-style="italic" stroke-width="0.30">z</text>
<text transform="matrix(1.0900 0.002 -0.002 1.0387 130.08 522.34)" font-size="23" stroke-width="0.12">0</text>
<text transform="matrix(1.4828 0.002 -0.002 1.0581 152.88 520.58)" font-size="31" stroke-width="0.30">=</text>
<text transform="matrix(1.0841 0.002 -0.002 1.0635 187.14 517.97)" font-size="31" stroke-width="0.30">0.5</text>
<text transform="matrix(1.0113 0.002 -0.002 0.9016 116.21 550.60)" font-size="34" font-style="italic" stroke-width="0.30">z</text>
<text transform="matrix(1.0900 0.002 -0.002 1.0387 130.08 555.54)" font-size="23" stroke-width="0.12">0</text>
<text transform="matrix(1.4828 0.002 -0.002 1.0581 152.88 553.78)" font-size="31" stroke-width="0.30">=</text>
<text transform="matrix(1.0694 0.002 -0.002 1.0635 187.16 551.17)" font-size="31" stroke-width="0.30">0.7</text>
</g>
</svg>
</body></html>
